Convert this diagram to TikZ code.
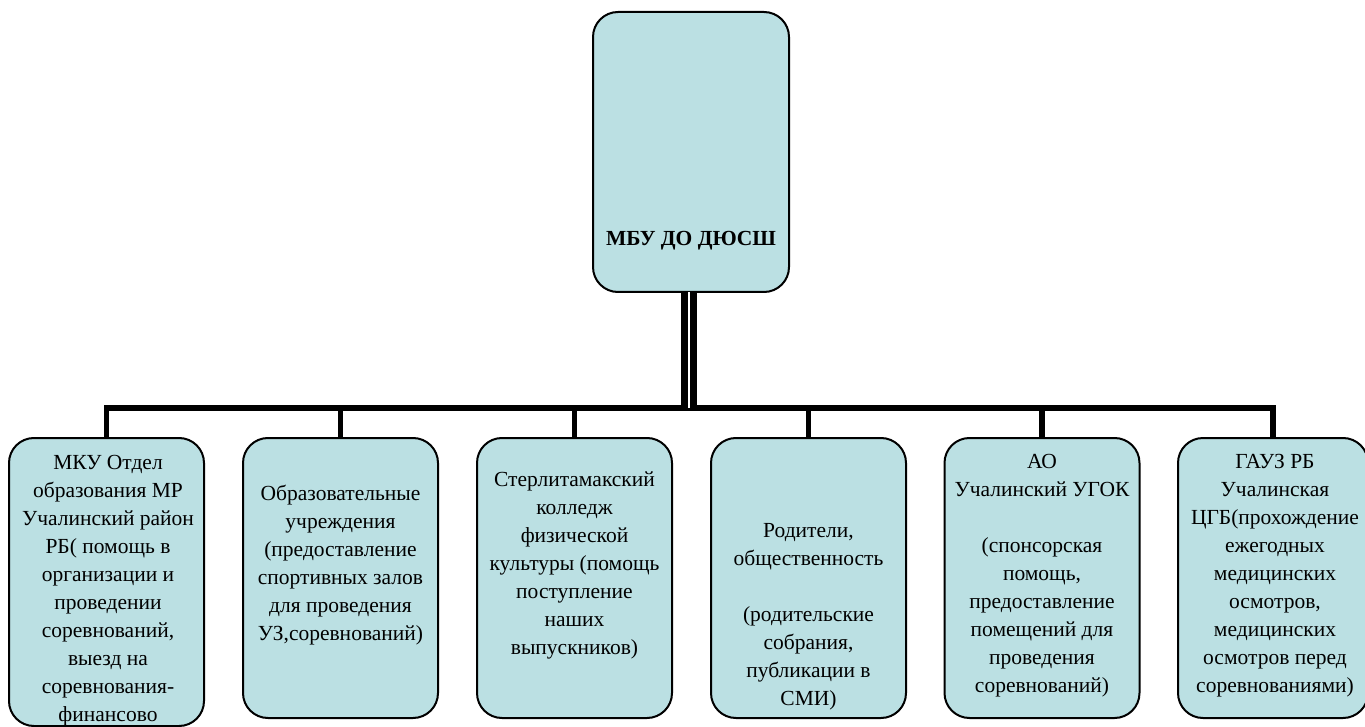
\documentclass[tikz,border=0pt]{standalone}
\usepackage{fontspec}
\setmainfont{Liberation Serif}
\usepackage{tikz}
\definecolor{boxfill}{RGB}{187,224,227}
\newcommand{\chartScale}[0]{0.5}

\begin{document}
\begin{tikzpicture}[x=1pt, y=1pt, scale=\chartScale, transform shape]
  \tikzset{
    org box/.style={draw, line width=1pt, fill=boxfill, rounded corners=12.5pt,
      minimum width=195, minimum height=280, inner sep=0pt},
    org text/.style={align=center, anchor=north, inner sep=0pt,
      font=\fontsize{21.5}{28}\selectfont},
    link/.style={line width=2.7pt},
    trunk/.style={double, line width=3.5pt, double distance=1pt}
  }
  \useasboundingbox (0,0) rectangle (1365,-727);
  % boxes
  \node[org box, minimum width=196] (school) at (691,-152) {};
  \node[org box, minimum height=288] (part-1) at (106.5,-582) {};
  \node[org box] (part-2) at (340.5,-578) {};
  \node[org box] (part-3) at (574.5,-578) {};
  \node[org box] (part-4) at (808.5,-578) {};
  \node[org box] (part-5) at (1042,-578) {};
  \node[org box, minimum width=190] (part-6) at (1273,-578) {};
  % texts
  \node[font=\fontsize{21.5}{28}\selectfont\bfseries, anchor=base, inner sep=0pt]
    (school-text) at (691,-246) {МБУ ДО ДЮСШ};
  \node[org text] (text-1) at (108,-455) {МКУ Отдел\\образования МР\\Учалинский район\\РБ( помощь в\\организации и\\проведении\\соревнований,\\выезд на\\соревнования-\\финансово};
  \node[org text] (text-2) at (340.5,-485) {Образовательные\\учреждения\\(предоставление\\спортивных залов\\для проведения\\УЗ,соревнований)};
  \node[org text] (text-3) at (574.5,-472) {Стерлитамакский\\колледж\\физической\\культуры (помощь\\поступление\\наших\\выпускников)};
  \node[org text] (text-4) at (808.5,-523) {Родители,\\общественность\\[28pt](родительские\\собрания,\\публикации в\\СМИ)};
  \node[org text] (text-5) at (1042,-454) {АО\\Учалинский УГОК\\[28pt](спонсорская\\помощь,\\предоставление\\помещений для\\проведения\\соревнований)};
  \node[org text] (text-6) at (1275,-454) {ГАУЗ РБ\\Учалинская\\ЦГБ(прохождение\\ежегодных\\медицинских\\осмотров,\\медицинских\\осмотров перед\\соревнованиями)};
  % connectors
  \coordinate (hub) at (689,-408);
  \draw[link] (part-1.north) |- (hub) -| (part-6.north);
  \draw[link] (part-2.north) -- (part-2.north |- hub);
  \draw[link] (part-3.north) -- (part-3.north |- hub);
  \draw[link] (part-4.north) -- (part-4.north |- hub);
  \draw[link] (part-5.north) -- (part-5.north |- hub);
  \draw[trunk] (school.south -| hub) -- (hub);
\end{tikzpicture}
\end{document}
